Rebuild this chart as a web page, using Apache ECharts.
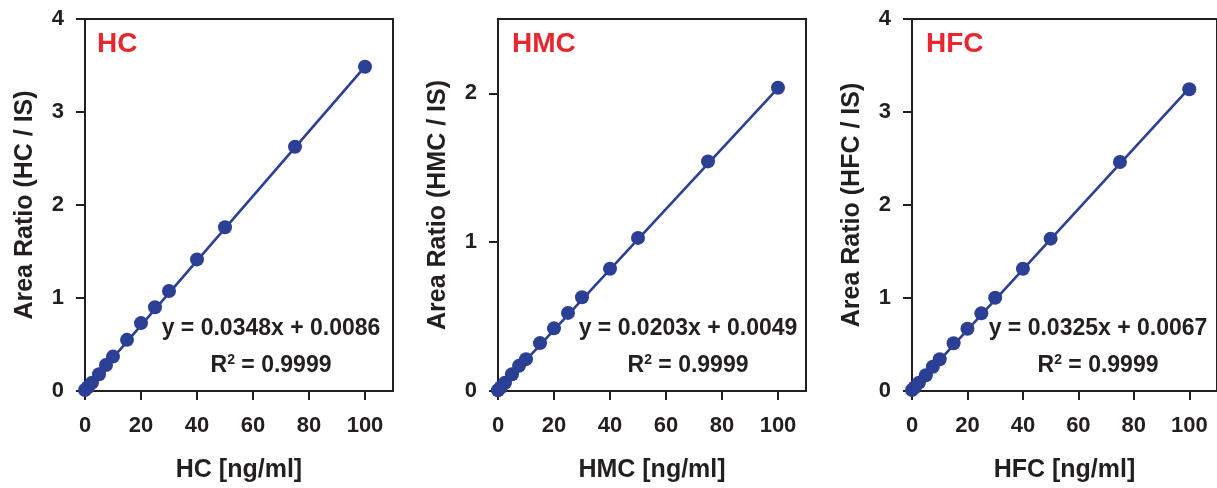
<!DOCTYPE html>
<html>
<head>
<meta charset="utf-8">
<script src="https://cdn.jsdelivr.net/npm/echarts@6/dist/echarts.min.js"></script>
<style>
html,body{margin:0;padding:0;background:#fff;}
#c{width:1217px;height:488px;}
</style>
</head>
<body>
<div id="c"></div>
<script>
// Concentrations (ng/ml)
const conc = [0, 1, 2.5, 5, 7.5, 10, 15, 20, 25, 30, 40, 50, 75, 100];
// Area ratios
const hcRatio  = [0.01, 0.04, 0.09, 0.18, 0.28, 0.37, 0.55, 0.73, 0.90, 1.075, 1.415, 1.76, 2.627, 3.487];
const hmcRatio = [0.005, 0.025, 0.055, 0.113, 0.169, 0.214, 0.322, 0.421, 0.525, 0.63, 0.822, 1.029, 1.543, 2.038];
const hfcRatio = [0.01, 0.04, 0.09, 0.17, 0.26, 0.341, 0.513, 0.67, 0.835, 1.003, 1.315, 1.638, 2.462, 3.244];
// Fit line endpoints (from printed equations)
const hcFit  = [[0, 0.0086], [100, 3.4886]];
const hmcFit = [[0, 0.0049], [100, 2.0349]];
const hfcFit = [[0, 0.0067], [100, 3.2567]];
// Labels
const names = ['HC', 'HMC', 'HFC'];
const yNames = ['Area Ratio (HC / IS)', 'Area Ratio (HMC / IS)', 'Area Ratio (HFC / IS)'];
const xNames = ['HC [ng/ml]', 'HMC [ng/ml]', 'HFC [ng/ml]'];
const equations = ['y = 0.0348x + 0.0086', 'y = 0.0203x + 0.0049', 'y = 0.0325x + 0.0067'];
const r2 = ['0.9999', '0.9999', '0.9999'];
const yMax = [4, 2.5, 4];
const yTicks = [[0, 1, 2, 3, 4], [0, 1, 2], [0, 1, 2, 3, 4]];
const xTicks = [0, 20, 40, 60, 80, 100];

const ratios = [hcRatio, hmcRatio, hfcRatio];
const fits = [hcFit, hmcFit, hfcFit];

const INK = '#231f20';
const BLUE = '#2b3f95';
const RED = '#e8262d';
const FONT = '"Liberation Sans", Arial, sans-serif';

const gridLefts = [85, 498, 912];
const gridW = 308, gridTop = 19, gridH = 372;

const chart = echarts.init(document.getElementById('c'));
const grids = [], xAxes = [], yAxes = [], series = [], graphics = [];

for (let i = 0; i < 3; i++) {
  grids.push({left: gridLefts[i], top: gridTop, width: gridW, height: gridH,
    show: true, borderColor: INK, borderWidth: 2, backgroundColor: 'transparent', containLabel: false});
  xAxes.push({gridIndex: i, type: 'value', min: 0, max: 110, interval: 20,
    name: xNames[i], nameLocation: 'middle', nameGap: 67,
    nameTextStyle: {fontFamily: FONT, fontWeight: 'bold', fontSize: 25, color: INK},
    axisLine: {show: true, onZero: false, lineStyle: {color: INK, width: 2}},
    axisTick: {show: true, inside: false, length: 9, lineStyle: {color: INK, width: 2}, customValues: xTicks},
    axisLabel: {fontFamily: FONT, fontWeight: 'bold', fontSize: 22, color: INK, margin: 24, customValues: xTicks},
    splitLine: {show: false}});
  yAxes.push({gridIndex: i, type: 'value', min: 0, max: yMax[i], interval: 1,
    name: yNames[i], nameLocation: 'middle', nameGap: 47, nameRotate: 90,
    nameTextStyle: {fontFamily: FONT, fontWeight: 'bold', fontSize: 25, color: INK},
    axisLine: {show: true, onZero: false, lineStyle: {color: INK, width: 2}},
    axisTick: {show: true, inside: false, length: 9, lineStyle: {color: INK, width: 2}, customValues: yTicks[i]},
    axisLabel: {fontFamily: FONT, fontWeight: 'bold', fontSize: 22, color: INK, margin: 21, customValues: yTicks[i]},
    splitLine: {show: false}});
  series.push({type: 'line', xAxisIndex: i, yAxisIndex: i, data: fits[i],
    showSymbol: false, symbol: 'none', lineStyle: {color: BLUE, width: 2.6}, silent: true, z: 2});
  series.push({type: 'scatter', xAxisIndex: i, yAxisIndex: i,
    data: conc.map((c, k) => [c, ratios[i][k]]),
    symbol: 'circle', symbolSize: 14, itemStyle: {color: BLUE, opacity: 1}, z: 3});

  const gl = gridLefts[i];
  graphics.push({type: 'text', left: gl + (i === 0 ? 12 : 14), top: 30,
    style: {text: names[i], fill: RED, font: 'bold 28px ' + FONT}});
  const cx = gl + (i === 1 ? 190 : 186);
  graphics.push({type: 'text', x: cx, y: 329,
    style: {text: equations[i], fill: INK, font: 'bold 23px ' + FONT, align: 'center', verticalAlign: 'middle'}});
  graphics.push({type: 'text', x: cx, y: 366,
    style: {text: '{m|R}{s|2}{m| = ' + r2[i] + '}', align: 'center', verticalAlign: 'middle',
      rich: {
        m: {fontFamily: FONT, fontWeight: 'bold', fontSize: 23, fill: INK, color: INK, lineHeight: 26},
        s: {fontFamily: FONT, fontWeight: 'bold', fontSize: 14, fill: INK, color: INK, lineHeight: 14, verticalAlign: 'top'}
      }}});
}

chart.setOption({
  animation: false,
  backgroundColor: '#ffffff',
  grid: grids, xAxis: xAxes, yAxis: yAxes, series: series, graphic: graphics
});
</script>
</body>
</html>
